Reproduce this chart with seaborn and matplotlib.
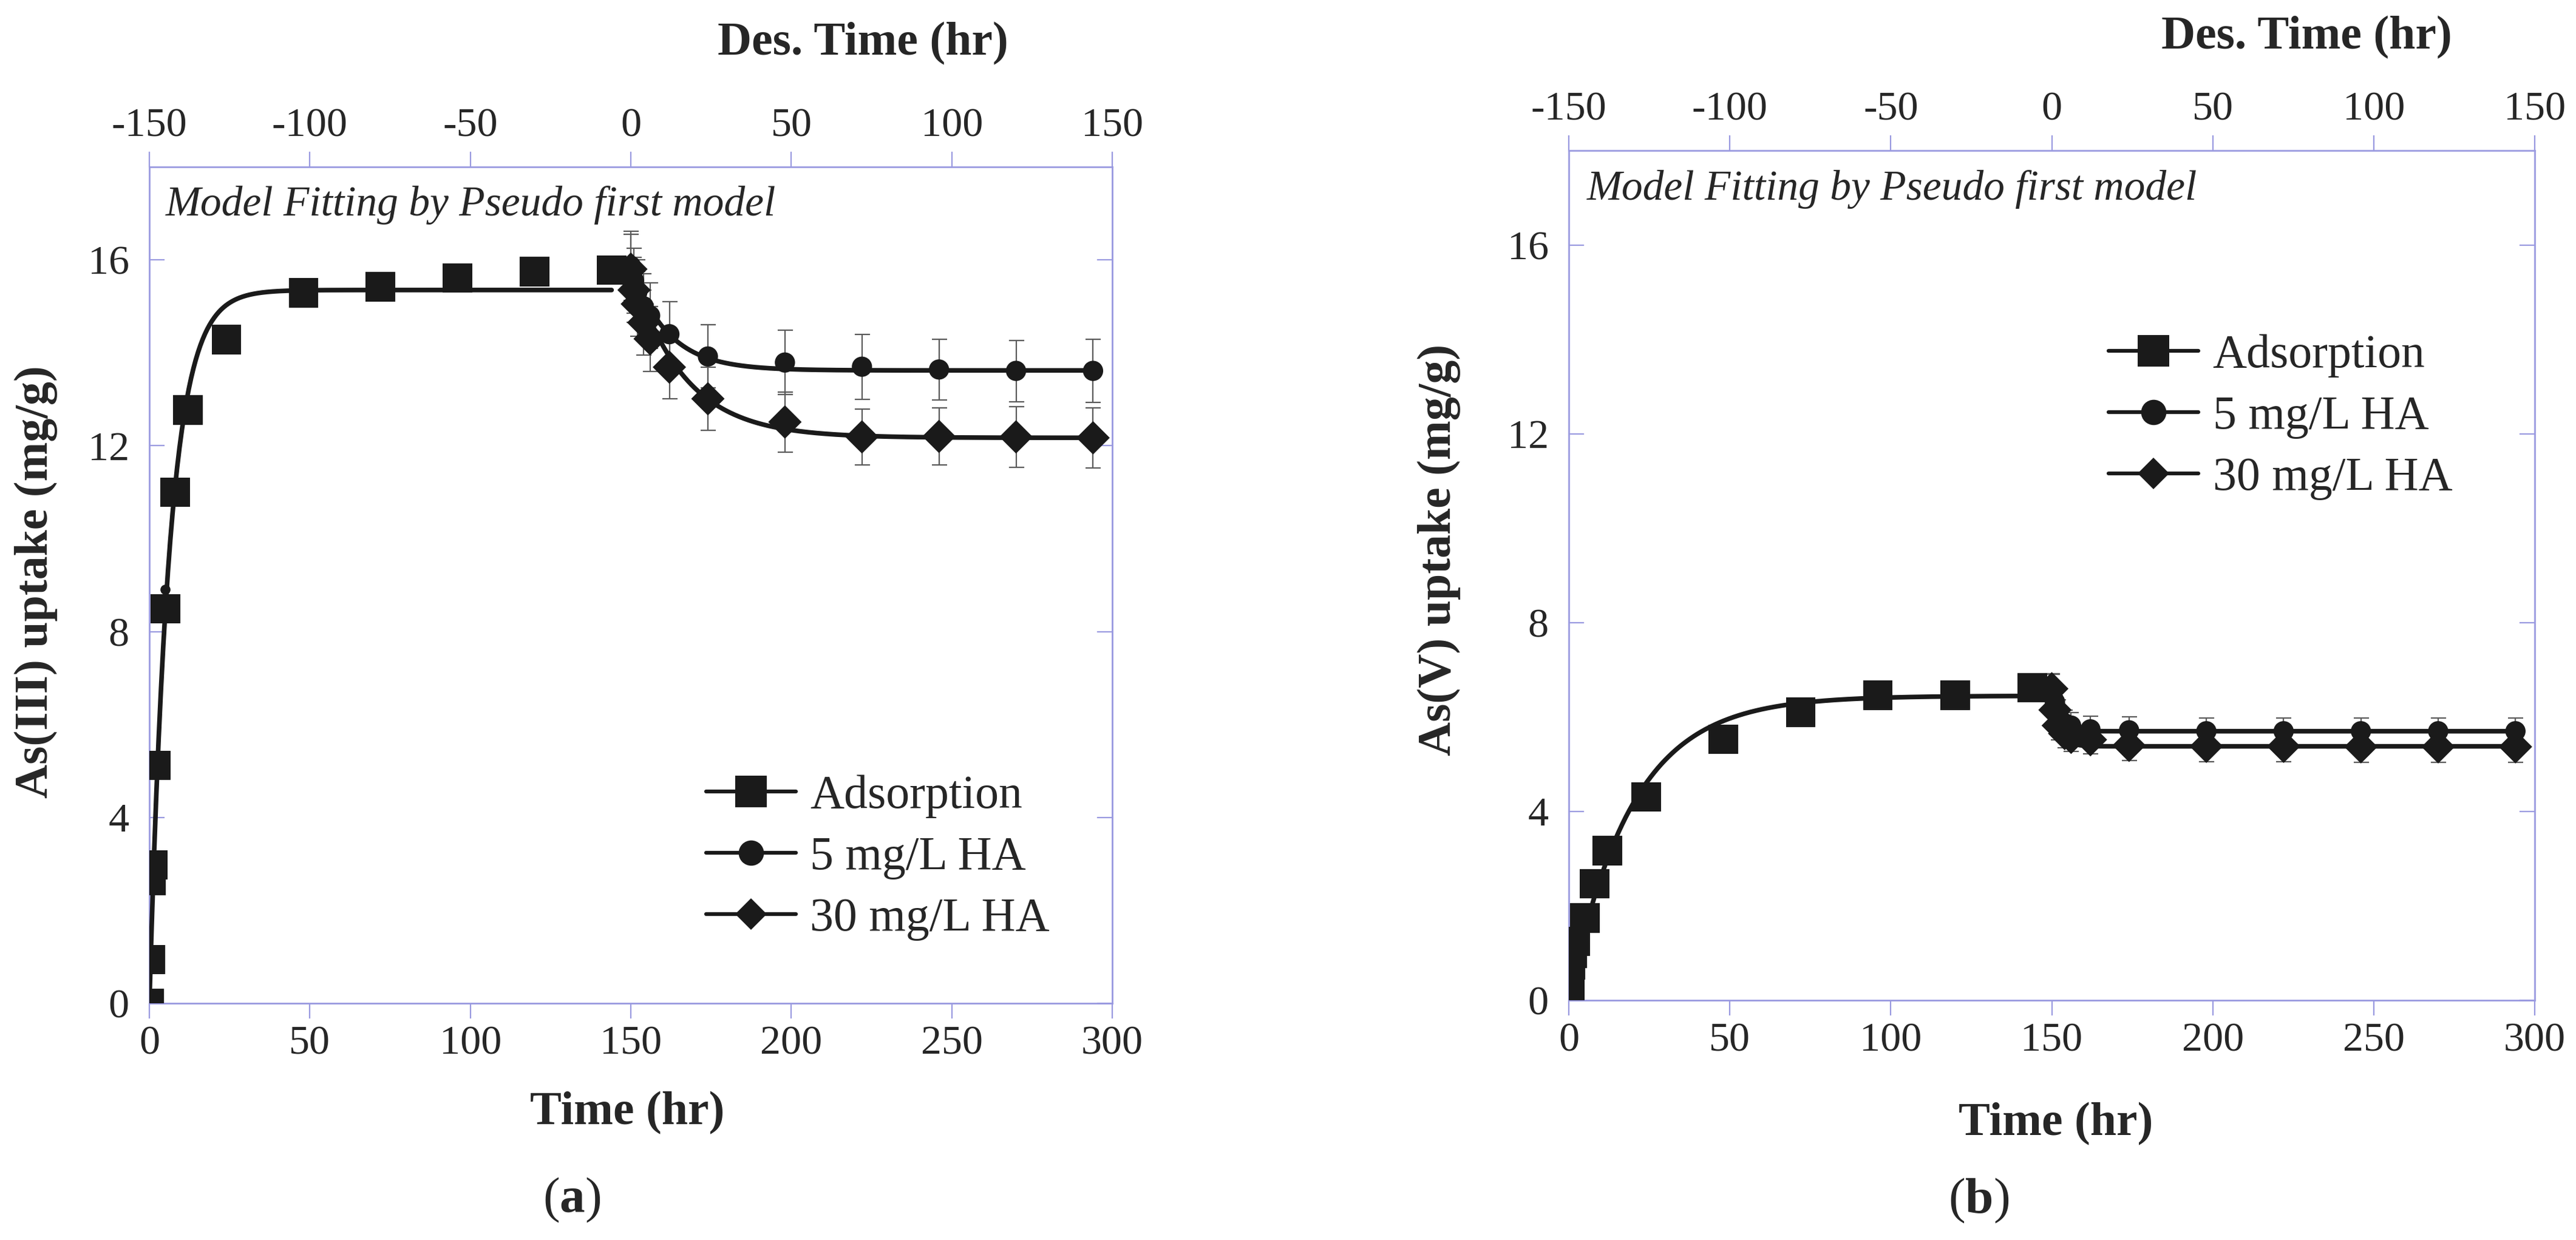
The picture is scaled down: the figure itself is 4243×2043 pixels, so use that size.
import numpy as np
import pandas as pd
import matplotlib
matplotlib.use('Agg')
import matplotlib.pyplot as plt
from matplotlib.lines import Line2D
import seaborn as sns

sns.set_theme(style='white')
plt.rcParams['font.family'] = ['Liberation Serif', 'DejaVu Serif']
plt.rcParams['axes.unicode_minus'] = False
plt.rcParams['mathtext.fontset'] = 'custom'
plt.rcParams['mathtext.rm'] = 'Liberation Serif'
plt.rcParams['mathtext.bf'] = 'Liberation Serif:bold'

# ---- panel (a): As(III) ----
ads_t_a = [0, 0.25, 0.5, 1, 2, 5, 8, 12, 24, 48, 72, 96, 120, 144]
ads_q_a = [0, 0.94, 2.64, 2.98, 5.12, 8.49, 11.0, 12.77, 14.28, 15.29, 15.42, 15.61, 15.75, 15.78]
des_t = [0, 1, 2, 4, 6, 12, 24, 48, 72, 96, 120, 144]
ha5_q_a = [15.87, 15.55, 15.30, 15.00, 14.80, 14.40, 13.92, 13.79, 13.70, 13.64, 13.61, 13.61]
ha5_err_a = [0.75, 0.7, 0.7, 0.7, 0.7, 0.7, 0.68, 0.69, 0.7, 0.65, 0.66, 0.68]
ha30_q_a = [15.80, 15.35, 15.05, 14.65, 14.30, 13.69, 13.01, 12.51, 12.19, 12.20, 12.19, 12.17]
ha30_err_a = [0.75, 0.7, 0.7, 0.7, 0.7, 0.68, 0.68, 0.65, 0.6, 0.61, 0.65, 0.65]
stray_t_a = [5]
stray_q_a = [8.9]
# fitted pseudo-first-order parameters (qe, k) and desorption (q0, q_end, k)
fit_ads_a = (15.35, 0.161)
fit_ha5_a = (15.9, 13.62, 0.09)
fit_ha30_a = (15.85, 12.17, 0.062)

# ---- panel (b): As(V) ----
ads_t_b = [0, 0.25, 0.5, 1, 2, 5, 8, 12, 24, 48, 72, 96, 120, 144]
ads_q_b = [0, 0.30, 0.75, 1.0, 1.25, 1.74, 2.47, 3.17, 4.31, 5.53, 6.10, 6.46, 6.46, 6.62]
ha5_q_b = [6.62, 6.32, 6.07, 5.87, 5.82, 5.74, 5.72, 5.70, 5.70, 5.70, 5.70, 5.70]
ha5_err_b = [0.3, 0.3, 0.3, 0.28, 0.28, 0.28, 0.28, 0.28, 0.28, 0.28, 0.28, 0.28]
ha30_q_b = [6.60, 6.15, 5.82, 5.65, 5.57, 5.52, 5.40, 5.38, 5.38, 5.37, 5.37, 5.37]
ha30_err_b = [0.3, 0.3, 0.3, 0.3, 0.3, 0.3, 0.32, 0.33, 0.33, 0.33, 0.33, 0.33]
fit_ads_b = (6.45, 0.052)
fit_ha5_b = (6.62, 5.70, 0.45)
fit_ha30_b = (6.60, 5.38, 0.45)

DES_START = 150  # desorption time 0 sits at 150 hr of total time
labels = ['Adsorption', '5 mg/L HA', '30 mg/L HA']
spine_col = '#9a9ae0'


def draw_panel(ax, ads_t, ads_q, fit_ads, ha5_q, ha5_err, fit5, ha30_q, ha30_err, fit30,
               ads_end, ylabel, ylab_pos, xlab_pos, toplab_pos, leg_pos, text_pos):
    tt = np.linspace(0, ads_end, 400)
    qe, k = fit_ads
    sns.lineplot(x=tt, y=qe * (1 - np.exp(-k * tt)), ax=ax, color='k', lw=5.5, zorder=3)
    td = np.linspace(0, 145, 400)
    for q0, qend, kd in (fit5, fit30):
        sns.lineplot(x=DES_START + td, y=qend + (q0 - qend) * np.exp(-kd * td),
                     ax=ax, color='k', lw=5.5, zorder=3)

    x_des = [DES_START + t for t in des_t]
    ax.errorbar(x_des, ha5_q, yerr=ha5_err, fmt='none', ecolor='#5a5a5a',
                elinewidth=1.6, capsize=9, capthick=1.6, zorder=2)
    ax.errorbar(x_des, ha30_q, yerr=ha30_err, fmt='none', ecolor='#5a5a5a',
                elinewidth=1.6, capsize=9, capthick=1.6, zorder=2)

    pts = pd.DataFrame({'t': ads_t, 'q': ads_q})
    sns.scatterplot(data=pts, x='t', y='q', ax=ax, marker='s', s=35 ** 2,
                    color='k', edgecolor='none', zorder=4)
    d5 = pd.DataFrame({'t': x_des, 'q': ha5_q})
    sns.scatterplot(data=d5, x='t', y='q', ax=ax, marker='o', s=24 ** 2,
                    color='k', edgecolor='none', zorder=4)
    d30 = pd.DataFrame({'t': x_des, 'q': ha30_q})
    sns.scatterplot(data=d30, x='t', y='q', ax=ax, marker='D', s=28 ** 2,
                    color='k', edgecolor='none', zorder=4)

    ax.set_xlim(0, 300)
    ax.set_ylim(0, 18)
    ax.set_xticks(range(0, 301, 50))
    ax.set_yticks([0, 4, 8, 12, 16])
    for s in ax.spines.values():
        s.set_color(spine_col)
        s.set_linewidth(2)
        s.set_visible(True)
    ax.tick_params(axis='x', direction='out', length=18, width=1.6, color=spine_col,
                   labelsize=49, pad=8, bottom=True)
    ax.tick_params(axis='y', direction='in', length=18, width=1.6, color=spine_col,
                   labelsize=49, pad=24, left=True, right=True)
    ax.set_xlabel('Time (hr)', fontsize=56, fontweight='bold')
    ax.set_ylabel(ylabel, fontsize=56, fontweight='bold')
    ax.xaxis.set_label_coords(*xlab_pos)
    ax.yaxis.set_label_coords(*ylab_pos)

    top = ax.twiny()
    top.set_xlim(-150, 150)
    top.set_xticks(range(-150, 151, 50))
    for s in top.spines.values():
        s.set_visible(False)
    top.tick_params(axis='x', direction='out', length=18, width=1.6, color=spine_col,
                    labelsize=49, pad=8, top=True)
    top.set_xlabel('Des. Time (hr)', fontsize=56, fontweight='bold')
    top.xaxis.set_label_coords(*toplab_pos)

    ax.text(text_pos[0], text_pos[1], 'Model Fitting by Pseudo first model',
            transform=ax.transAxes, fontsize=50, fontstyle='italic', va='center', ha='left')

    handles = [Line2D([], [], color='k', lw=4.5, marker='s', ms=38, markeredgewidth=0),
               Line2D([], [], color='k', lw=4.5, marker='o', ms=30, markeredgewidth=0),
               Line2D([], [], color='k', lw=4.5, marker='D', ms=26, markeredgewidth=0)]
    ax.legend(handles, labels, loc='center left', bbox_to_anchor=leg_pos, frameon=False,
              fontsize=56, handlelength=1.9, handletextpad=0.3, labelspacing=0.38,
              borderpad=0, borderaxespad=0)


fig = plt.figure(figsize=(42.43, 20.43), dpi=100)
ax_a = fig.add_axes([0.0580, 0.1909, 0.3738, 0.6745])
ax_b = fig.add_axes([0.6090, 0.1933, 0.3750, 0.6853])

draw_panel(ax_a, ads_t_a, ads_q_a, fit_ads_a, ha5_q_a, ha5_err_a, fit_ha5_a,
           ha30_q_a, ha30_err_a, fit_ha30_a, 144, 'As(III) uptake (mg/g)',
           (-0.095, 0.504), (0.496, -0.105), (0.741, 1.134), (0.578, 0.174), (0.017, 0.954))
sns.scatterplot(x=stray_t_a, y=stray_q_a, ax=ax_a, marker='o', s=12 ** 2,
                color='k', edgecolor='none', zorder=5)

draw_panel(ax_b, ads_t_b, ads_q_b, fit_ads_b, ha5_q_b, ha5_err_b, fit_ha5_b,
           ha30_q_b, ha30_err_b, fit_ha30_b, 147, 'As(V) uptake (mg/g)',
           (-0.112, 0.53), (0.504, -0.12), (0.764, 1.12), (0.559, 0.686), (0.019, 0.954))

fig.text(942 / 4243, 1 - 1977 / 2043, r'($\mathbf{a}$)', fontsize=60, ha='center', va='center')
fig.text(3259 / 4243, 1 - 1978 / 2043, r'($\mathbf{b}$)', fontsize=60, ha='center', va='center')

fig.savefig('out.png', dpi=100, facecolor='white')
